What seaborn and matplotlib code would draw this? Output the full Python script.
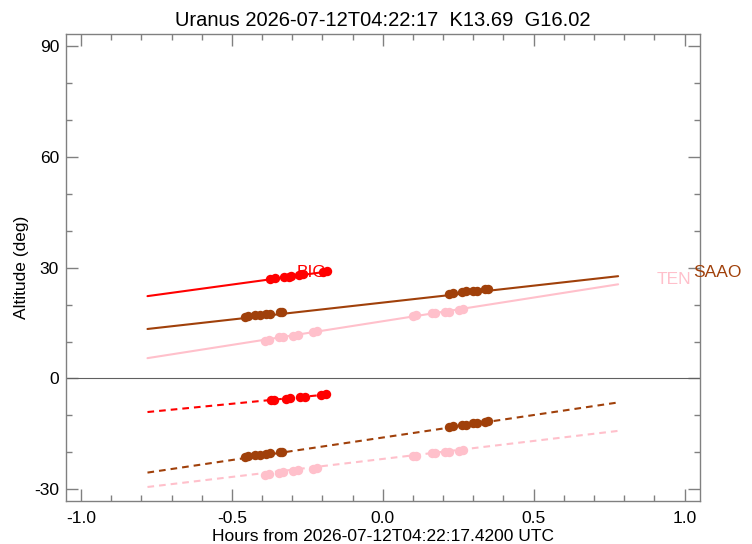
import pandas as pd
import matplotlib
matplotlib.use("Agg")
import matplotlib.pyplot as plt
import seaborn as sns

# observation times (hours from reference epoch) and altitudes of the dots
big_t = [-0.373, -0.357, -0.326, -0.311, -0.303, -0.278, -0.265, -0.198, -0.184]
big_up = [26.9, 27.1, 27.5, 27.6, 27.7, 28.0, 28.2, 28.9, 29.0]
big_dn_t = [-0.370, -0.359, -0.322, -0.307, -0.276, -0.259, -0.204, -0.187]
big_dn = [-5.88, -5.80, -5.53, -5.42, -5.15, -5.07, -4.52, -4.33]

saao_t = [-0.458, -0.447, -0.425, -0.408, -0.386, -0.373, -0.342, -0.333,
          0.220, 0.233, 0.264, 0.275, 0.300, 0.311, 0.338, 0.349]
saao_up = [16.7, 16.8, 17.1, 17.2, 17.4, 17.5, 17.9, 18.0,
           23.0, 23.2, 23.5, 23.6, 23.7, 23.8, 24.2, 24.3]
saao_dn = [-21.2, -21.0, -20.7, -20.6, -20.4, -20.3, -19.9, -19.8,
           -13.1, -12.9, -12.6, -12.5, -12.2, -12.1, -11.8, -11.6]

ten_t = [-0.391, -0.377, -0.344, -0.331, -0.298, -0.281, -0.231, -0.217,
         0.099, 0.109, 0.162, 0.172, 0.206, 0.220, 0.253, 0.266]
ten_up = [10.1, 10.3, 11.2, 11.3, 11.6, 11.8, 12.7, 12.8,
          16.9, 17.1, 17.6, 17.7, 18.0, 18.1, 18.6, 18.8]
ten_dn = [-26.2, -26.0, -25.6, -25.4, -25.1, -24.9, -24.4, -24.2,
          -21.0, -20.9, -20.3, -20.2, -20.0, -19.8, -19.6, -19.4]

# track lines (start / end of the visibility window)
big_line_t = [-0.78, -0.18]
big_line_up = [22.3, 29.0]
big_line_dn = [-9.1, -4.3]
line_t = [-0.78, 0.78]
saao_line_up = [13.4, 27.7]
saao_line_dn = [-25.5, -6.5]
ten_line_up = [5.5, 25.5]
ten_line_dn = [-29.4, -14.2]

colors = {"BIG": "#FF0000", "SAAO": "#A0400A", "TEN": "#FFC0CB"}

sns.set_style("ticks")
plt.rcParams["font.family"] = ["Liberation Sans", "DejaVu Sans"]
plt.rcParams["text.color"] = "black"
plt.rcParams["axes.labelcolor"] = "black"

fig = plt.figure(figsize=(7.52, 5.44), dpi=100)
ax = fig.add_axes([0.0878, 0.079, 0.8425, 0.8585])

ax.axhline(0, color="#606060", lw=0.8, zorder=1)

lines = [
    ("TEN", line_t, ten_line_up, ten_line_dn),
    ("SAAO", line_t, saao_line_up, saao_line_dn),
    ("BIG", big_line_t, big_line_up, big_line_dn),
]
for name, t, up, dn in lines:
    sns.lineplot(x=t, y=up, color=colors[name], lw=1.5, ax=ax, estimator=None)
    sns.lineplot(x=t, y=dn, color=colors[name], lw=1.5, ax=ax, estimator=None,
                 linestyle=(0, (3.2, 2.4)))

dots = [
    ("TEN", ten_t, ten_up, ten_t, ten_dn),
    ("SAAO", saao_t, saao_up, saao_t, saao_dn),
    ("BIG", big_t, big_up, big_dn_t, big_dn),
]
for name, t, up, td, dn in dots:
    sns.scatterplot(x=t, y=up, color=colors[name], s=46, linewidth=0, ax=ax, zorder=3)
    sns.scatterplot(x=td, y=dn, color=colors[name], s=46, linewidth=0, ax=ax, zorder=3)

ax.text(-0.287, 27.4, "BIG", color=colors["BIG"], fontsize=12.5)
ax.text(0.908, 25.5, "TEN", color=colors["TEN"], fontsize=12.5, clip_on=False)
ax.text(1.029, 27.5, "SAAO", color=colors["SAAO"], fontsize=12.5, clip_on=False)

ax.set_xlim(-1.05, 1.05)
ax.set_ylim(-33.2, 93.3)
ax.set_xticks([-1.0, -0.5, 0.0, 0.5, 1.0])
ax.set_xticks([x / 10 for x in range(-10, 11)], minor=True)
ax.set_yticks([-30, 0, 30, 60, 90])
ax.set_yticks(range(-30, 91, 10), minor=True)
ax.set_xticklabels(["-1.0", "-0.5", "0.0", "0.5", "1.0"])
ax.set_yticklabels(["-30", "0", "30", "60", "90"])

for sp in ax.spines.values():
    sp.set_visible(True)
    sp.set_color("#808080")
    sp.set_linewidth(1.0)
ax.tick_params(which="both", direction="in", top=True, right=True,
               color="#808080", labelcolor="black", labelsize=12.5)
ax.tick_params(axis="x", pad=7)
ax.tick_params(axis="y", pad=5)
ax.tick_params(which="major", length=8.5, width=1.0)
ax.tick_params(which="minor", length=4.3, width=1.0)

ax.set_title("Uranus 2026-07-12T04:22:17  K13.69  G16.02", fontsize=14.5, pad=6)
ax.set_xlabel("Hours from 2026-07-12T04:22:17.4200 UTC", fontsize=12.5, labelpad=2)
ax.set_ylabel("Altitude (deg)", fontsize=12.5, labelpad=4)

fig.savefig("out.png", dpi=100)
